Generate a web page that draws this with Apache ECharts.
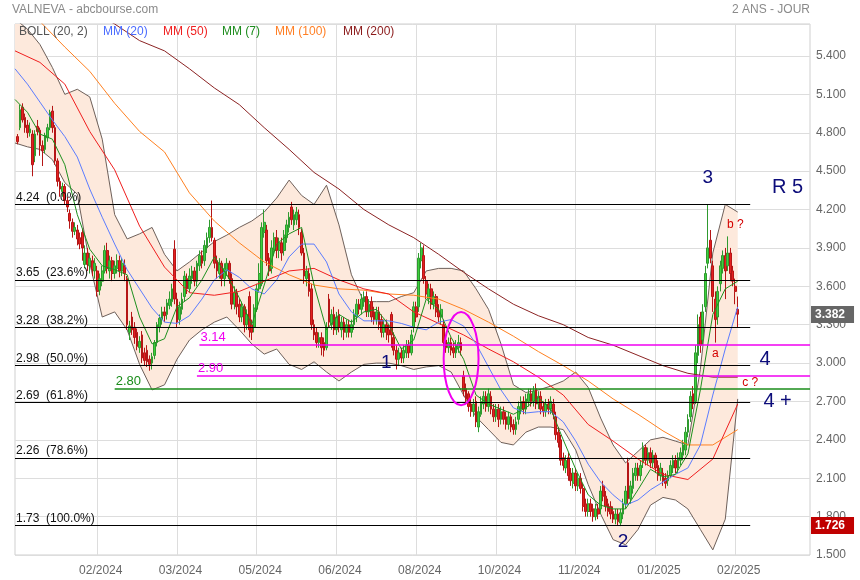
<!DOCTYPE html>
<html><head><meta charset="utf-8">
<script src="https://cdn.jsdelivr.net/npm/echarts@6/dist/echarts.min.js"></script>
<style>html,body{margin:0;padding:0;background:#fff}#c{width:860px;height:580px}</style>
</head><body><div id="c"></div>
<script>
// ---------- DATA ----------
const firstIdx = 1;           // category index of the first candle
const nSlots = 320;           // category slots on the x axis (includes empty right margin)
const tickIdx = [33, 65, 97, 129, 161, 193, 225, 257, 289];
const tickLabels = ['02/2024','03/2024','05/2024','06/2024','08/2024','10/2024','11/2024','01/2025','02/2025'];

const opens = [
4.77,4.84,5.00,4.92,4.86,4.80,4.79,4.62,4.85,4.82,
4.70,4.67,4.76,4.84,4.97,4.84,4.58,4.42,4.34,4.38,
4.27,4.17,4.10,4.03,4.04,3.98,4.02,3.77,3.86,3.76,
3.80,3.72,3.72,3.57,3.64,3.72,3.88,3.72,3.80,3.70,
3.74,3.80,3.72,3.76,3.66,3.24,3.36,3.28,3.24,3.12,
3.22,3.08,3.10,3.03,3.00,3.06,3.16,3.28,3.34,3.40,
3.38,3.45,3.48,3.89,3.50,3.34,3.42,3.52,3.66,3.58,
3.66,3.72,3.64,3.76,3.84,3.80,3.90,3.98,4.06,3.96,
3.80,3.70,3.78,3.66,3.72,3.78,3.66,3.46,3.55,3.46,
3.36,3.44,3.30,3.52,3.30,3.28,3.42,3.58,3.62,4.02,
4.04,3.82,3.74,3.88,3.98,3.88,3.94,3.88,3.98,4.06,
4.22,4.08,4.12,4.16,4.02,3.86,3.66,3.70,3.58,3.30,
3.24,3.16,3.20,3.16,3.12,3.50,3.30,3.38,3.26,3.38,
3.26,3.32,3.24,3.30,3.24,3.30,3.36,3.46,3.42,3.48,
3.52,3.40,3.48,3.40,3.34,3.40,3.34,3.24,3.30,3.26,
3.38,3.20,3.10,3.03,3.08,3.04,3.08,3.14,3.08,3.28,
3.44,3.44,3.80,3.84,3.64,3.50,3.58,3.46,3.52,3.40,
3.36,3.30,3.18,3.12,3.16,3.12,3.08,3.12,3.16,2.90,
2.80,2.76,2.68,2.62,2.70,2.50,2.60,2.68,2.74,2.66,
2.74,2.64,2.58,2.64,2.56,2.62,2.58,2.52,2.58,2.52,
2.48,2.56,2.64,2.70,2.64,2.70,2.76,2.70,2.80,2.68,
2.74,2.66,2.62,2.68,2.64,2.68,2.58,2.46,2.40,2.26,
2.18,2.26,2.14,2.06,2.14,2.04,2.10,2.02,1.90,1.84,
1.90,1.86,1.80,1.86,1.86,2.04,1.96,1.90,1.88,1.84,
1.78,1.82,1.75,1.82,1.90,2.22,1.94,2.02,2.12,2.18,
2.12,2.22,2.34,2.24,2.30,2.22,2.28,2.20,2.12,2.14,
2.10,2.08,2.12,2.18,2.24,2.18,2.24,2.28,2.32,2.46,
2.58,2.76,2.70,3.06,3.36,3.18,3.44,3.78,3.96,3.76,
3.50,3.36,3.62,3.74,3.84,3.76,3.86,3.72,3.60,3.42];
const highs = [
4.79,5.02,5.03,4.95,4.90,4.88,4.82,4.82,4.90,4.84,
4.74,4.80,4.87,4.98,5.01,4.86,4.60,4.45,4.41,4.40,
4.30,4.20,4.13,4.10,4.08,4.02,4.05,3.92,3.90,3.86,
3.84,3.82,3.76,3.70,3.76,3.92,3.94,3.84,3.83,3.80,
3.85,3.84,3.82,3.81,3.68,3.33,3.40,3.32,3.27,3.21,
3.25,3.12,3.14,3.06,3.08,3.18,3.32,3.38,3.44,3.44,
3.50,3.56,3.62,3.96,3.55,3.48,3.55,3.72,3.70,3.74,
3.76,3.75,3.80,3.88,3.88,3.96,4.02,4.12,4.27,3.98,
3.84,3.82,3.80,3.78,3.82,3.80,3.70,3.60,3.58,3.50,
3.48,3.46,3.42,3.56,3.34,3.46,3.62,3.78,4.10,4.20,
4.08,3.86,3.96,4.02,4.04,3.98,3.98,4.04,4.12,4.18,
4.26,4.20,4.22,4.20,4.05,3.90,3.76,3.74,3.62,3.34,
3.28,3.24,3.24,3.20,3.32,3.54,3.42,3.44,3.40,3.42,
3.36,3.36,3.34,3.34,3.34,3.42,3.50,3.50,3.54,3.56,
3.56,3.50,3.52,3.44,3.44,3.44,3.38,3.34,3.34,3.30,
3.40,3.24,3.14,3.12,3.12,3.14,3.18,3.18,3.26,3.48,
3.48,3.86,3.94,3.92,3.68,3.62,3.62,3.56,3.54,3.46,
3.46,3.34,3.22,3.20,3.20,3.16,3.18,3.22,3.20,2.94,
2.84,2.78,2.72,2.72,2.74,2.66,2.74,2.78,2.78,2.80,
2.78,2.68,2.68,2.68,2.66,2.66,2.62,2.62,2.60,2.56,
2.58,2.70,2.74,2.74,2.76,2.80,2.80,2.82,2.84,2.78,
2.78,2.70,2.72,2.72,2.74,2.72,2.62,2.50,2.44,2.30,
2.28,2.30,2.18,2.18,2.18,2.14,2.14,2.06,1.94,1.94,
1.94,1.90,1.90,1.90,2.04,2.08,2.00,1.94,1.92,1.88,
1.86,1.86,1.86,1.94,2.04,2.26,2.08,2.18,2.22,2.22,
2.24,2.38,2.36,2.34,2.34,2.32,2.30,2.24,2.22,2.18,
2.14,2.16,2.24,2.28,2.28,2.30,2.34,2.40,2.50,2.60,
2.78,2.82,3.14,3.38,3.40,3.46,3.76,4.24,4.04,3.80,
3.56,3.60,3.80,3.88,3.90,3.99,3.90,3.76,3.66,3.52];
const lows = [
4.71,4.82,4.88,4.80,4.76,4.77,4.46,4.57,4.78,4.62,
4.54,4.64,4.73,4.82,4.80,4.55,4.38,4.30,4.30,4.24,
4.18,4.05,3.98,4.00,3.92,3.89,3.80,3.74,3.72,3.70,
3.68,3.66,3.52,3.53,3.60,3.70,3.70,3.66,3.64,3.66,
3.70,3.67,3.68,3.64,3.26,3.18,3.22,3.15,3.10,3.08,
3.00,2.98,2.97,2.94,2.95,3.03,3.13,3.24,3.30,3.32,
3.34,3.42,3.44,3.46,3.28,3.30,3.38,3.48,3.54,3.55,
3.62,3.60,3.60,3.72,3.74,3.76,3.86,3.94,3.95,3.74,
3.66,3.66,3.60,3.60,3.68,3.62,3.42,3.42,3.38,3.32,
3.32,3.24,3.26,3.20,3.18,3.24,3.40,3.55,3.60,3.98,
3.76,3.68,3.70,3.84,3.82,3.82,3.80,3.84,3.94,4.02,
4.08,4.04,4.08,4.00,3.84,3.62,3.60,3.52,3.26,3.18,
3.12,3.12,3.06,3.05,3.10,3.28,3.26,3.22,3.22,3.24,
3.20,3.18,3.20,3.20,3.20,3.26,3.32,3.38,3.38,3.44,
3.36,3.36,3.32,3.30,3.30,3.26,3.20,3.20,3.18,3.16,
3.12,3.06,2.95,2.98,3.00,3.00,3.04,3.04,3.06,3.24,
3.32,3.40,3.74,3.62,3.50,3.46,3.42,3.42,3.36,3.32,
3.30,3.12,3.08,3.08,3.06,3.04,3.04,3.08,3.06,2.74,
2.68,2.62,2.58,2.58,2.50,2.46,2.58,2.64,2.62,2.62,
2.60,2.54,2.54,2.50,2.52,2.52,2.48,2.48,2.46,2.44,
2.44,2.52,2.60,2.60,2.60,2.66,2.66,2.66,2.64,2.64,
2.60,2.58,2.58,2.60,2.60,2.56,2.40,2.34,2.20,2.16,
2.14,2.08,2.04,2.02,2.00,2.00,1.98,1.84,1.80,1.80,
1.80,1.76,1.77,1.78,1.82,1.92,1.84,1.80,1.78,1.75,
1.74,1.73,1.726,1.78,1.86,1.90,1.90,1.98,2.08,2.08,
2.08,2.18,2.20,2.20,2.18,2.18,2.14,2.08,2.08,2.04,
2.02,2.04,2.10,2.14,2.14,2.14,2.20,2.24,2.28,2.42,
2.54,2.64,2.68,3.00,3.08,3.14,3.40,3.74,3.78,3.40,
3.16,3.30,3.56,3.70,3.50,3.72,3.64,3.60,3.46,3.28];
const closes = [
4.73,4.98,4.90,4.84,4.80,4.83,4.55,4.79,4.81,4.70,
4.66,4.78,4.84,4.96,4.84,4.58,4.42,4.36,4.38,4.27,
4.22,4.11,4.03,4.06,3.97,3.93,3.90,3.86,3.77,3.82,
3.73,3.78,3.56,3.66,3.72,3.88,3.74,3.80,3.70,3.76,
3.80,3.72,3.78,3.70,3.30,3.29,3.26,3.20,3.13,3.17,
3.04,3.02,3.01,2.99,3.05,3.16,3.30,3.35,3.40,3.37,
3.47,3.50,3.58,3.50,3.32,3.44,3.50,3.68,3.58,3.68,
3.72,3.64,3.78,3.84,3.78,3.92,3.98,4.06,3.98,3.78,
3.72,3.78,3.66,3.74,3.78,3.66,3.46,3.55,3.44,3.36,
3.44,3.30,3.38,3.26,3.24,3.43,3.58,3.70,4.06,4.10,
3.80,3.72,3.90,3.98,3.88,3.94,3.86,4.00,4.08,4.14,
4.12,4.16,4.18,4.06,3.86,3.68,3.72,3.56,3.30,3.22,
3.16,3.20,3.12,3.10,3.28,3.32,3.38,3.26,3.36,3.28,
3.32,3.24,3.30,3.24,3.30,3.38,3.46,3.42,3.50,3.52,
3.40,3.46,3.36,3.34,3.40,3.30,3.24,3.30,3.24,3.22,
3.22,3.10,3.03,3.08,3.04,3.10,3.14,3.08,3.22,3.44,
3.36,3.82,3.90,3.66,3.54,3.58,3.46,3.52,3.40,3.36,
3.42,3.16,3.12,3.16,3.10,3.08,3.14,3.16,3.10,2.78,
2.72,2.66,2.62,2.68,2.54,2.62,2.70,2.74,2.66,2.76,
2.64,2.58,2.64,2.56,2.62,2.56,2.52,2.58,2.50,2.48,
2.54,2.66,2.70,2.64,2.72,2.76,2.70,2.78,2.68,2.74,
2.64,2.62,2.68,2.64,2.70,2.60,2.44,2.38,2.24,2.20,
2.24,2.12,2.08,2.14,2.04,2.10,2.02,1.88,1.84,1.90,
1.84,1.80,1.86,1.82,2.00,1.96,1.88,1.84,1.82,1.78,
1.82,1.76,1.83,1.90,2.00,1.94,2.04,2.14,2.18,2.12,
2.20,2.34,2.24,2.30,2.22,2.28,2.18,2.12,2.18,2.08,
2.06,2.12,2.20,2.24,2.18,2.26,2.30,2.36,2.46,2.56,
2.74,2.68,3.08,3.30,3.14,3.40,3.70,3.90,3.82,3.52,
3.34,3.56,3.76,3.84,3.72,3.86,3.70,3.64,3.56,3.382];

// indicator lines at sample positions (category index)
const bandIdx = [0,5,10,15,20,25,30,35,40,45,50,55,60,65,70,75,80,85,90,95,100,105,110,115,120,125,130,135,140,145,150,155,160,165,170,175,180,185,190,195,200,205,210,215,220,225,230,235,240,245,250,255,260,265,270,275,280,285,290];
const bollUpper = [5.69,5.61,5.49,5.31,5.10,5.14,5.08,4.75,4.16,3.97,4.01,4.06,3.85,3.72,3.79,3.87,3.95,4.00,4.06,4.11,4.18,4.29,4.43,4.31,4.24,4.39,4.08,3.69,3.48,3.48,3.48,3.52,3.55,3.72,3.74,3.74,3.72,3.58,3.42,3.15,2.83,2.77,2.79,2.82,2.86,2.93,2.81,2.57,2.36,2.22,2.31,2.40,2.42,2.39,2.36,2.95,3.86,4.24,4.18];
const bollLower = [4.72,4.69,4.67,4.59,4.41,4.32,3.78,3.36,3.40,3.26,2.99,2.79,2.83,3.03,3.18,3.26,3.32,3.36,3.26,3.15,3.07,3.11,2.99,2.95,3.01,2.93,2.86,2.93,2.99,3.00,3.00,2.98,2.95,2.97,2.98,2.93,2.75,2.58,2.48,2.38,2.36,2.46,2.50,2.50,2.48,2.32,2.05,1.82,1.62,1.58,1.70,1.89,1.95,1.93,1.86,1.70,1.54,1.78,2.72];
const mm20 = [5.30,5.18,5.04,4.90,4.77,4.61,4.36,4.14,3.93,3.73,3.58,3.43,3.32,3.31,3.37,3.50,3.65,3.73,3.67,3.58,3.54,3.65,3.83,3.93,3.93,3.79,3.54,3.40,3.33,3.33,3.33,3.31,3.28,3.26,3.32,3.34,3.29,3.15,2.97,2.79,2.65,2.61,2.62,2.62,2.54,2.39,2.21,2.07,1.97,1.89,1.93,2.01,2.07,2.13,2.18,2.36,2.75,3.11,3.44];
const mm7 = [5.06,4.96,4.79,4.75,4.55,4.16,3.89,3.76,3.73,3.69,3.36,3.15,3.19,3.44,3.51,3.65,3.83,3.69,3.51,3.30,3.61,3.93,4.01,4.06,3.61,3.26,3.38,3.32,3.40,3.42,3.30,3.11,3.18,3.50,3.42,3.20,3.03,2.75,2.68,2.64,2.60,2.65,2.73,2.64,2.40,2.17,1.97,1.89,1.86,1.86,2.01,2.17,2.11,2.13,2.29,2.79,3.38,3.58,3.64];
const slowIdx = [0,10,20,30,40,50,60,70,80,90,100,110,120,130,140,150,160,170,180,190,200,210,220,230,240,250,260,270,280,290];
const mm50  = [5.44,5.35,5.18,4.81,4.51,4.07,3.75,3.55,3.53,3.56,3.64,3.72,3.74,3.65,3.58,3.54,3.40,3.31,3.22,3.11,3.01,2.89,2.75,2.52,2.39,2.25,2.13,2.09,2.25,2.68];
const mm100 = [5.87,5.67,5.47,5.28,5.03,4.81,4.65,4.33,4.11,3.94,3.79,3.69,3.61,3.58,3.57,3.54,3.53,3.50,3.42,3.32,3.21,3.09,2.98,2.86,2.72,2.60,2.47,2.36,2.36,2.48];
const mm200 = [6.12,6.00,5.88,5.76,5.65,5.52,5.44,5.30,5.15,5.02,4.84,4.67,4.49,4.36,4.20,4.08,3.98,3.85,3.71,3.58,3.46,3.37,3.30,3.20,3.14,3.06,2.98,2.92,2.89,2.89];

// Fibonacci retracement levels
const fibValues = [4.24, 3.65, 3.28, 2.98, 2.69, 2.26, 1.73];
const fibLabels = ['4.24  (0.0%)','3.65  (23.6%)','3.28  (38.2%)','2.98  (50.0%)','2.69  (61.8%)','2.26  (78.6%)','1.73  (100.0%)'];
const fibEndIdx = 295;
// other horizontal levels
const levelValues = [3.14, 2.90, 2.80];
const levelLabels = ['3.14', '2.90', '2.80'];
const levelStartIdx = [74, 73, 40];
// price tags
const lastPrice = 3.382;
const lowPrice = 1.726;
// annotations
const annotText = ['3','R 5','b ?','a','4','c ?','4 +','1','2'];
const annotX = [278, 310, 289, 281, 301, 295, 306, 149, 244];
const annotY = [4.45, 4.37, 4.08, 3.07, 3.03, 2.85, 2.70, 3.00, 1.60];
const annotIsWave = [true, true, false, false, true, false, true, true, true];
// ellipse box [x0, y0, x1, y1]
const ellipseBox = [172, 2.67, 186, 3.40];

// ---------- CHART ----------
const FONT = 'Liberation Sans, Arial, sans-serif';
const cats = Array.from({length: nSlots}, (_, i) => String(i));
const candleData = closes.map((c, k) => [k + firstIdx, opens[k], c, lows[k], highs[k]]);
const pairs = (idx, vals) => idx.map((x, k) => [x, vals[k]]);
const isTick = (i) => tickIdx.indexOf(i) >= 0;

const lineSeries = (name, idx, vals, color, z) => ({
  type: 'line', name, data: pairs(idx, vals), showSymbol: false, symbol: 'none',
  lineStyle: {color, width: 1}, z: z || 4, silent: true, clip: true
});

const fibMarks = fibValues.map((v, k) => ([
  {coord: [0, v], label: {formatter: fibLabels[k]}},
  {coord: [fibEndIdx, v]}
]));
const levelColors = ['#f000f0', '#f000f0', '#1a8c1a'];
const levelMarks = levelValues.map((v, k) => ([
  {coord: [levelStartIdx[k], v], lineStyle: {color: levelColors[k], width: 1.5},
   label: {formatter: levelLabels[k], color: levelColors[k], fontSize: 13}},
  {coord: [nSlots - 1, v], lineStyle: {color: levelColors[k], width: 1.5}}
]));

const annotData = annotText.map((t, k) => ({
  value: [annotX[k], annotY[k]],
  label: annotIsWave[k]
    ? {formatter: t, color: '#0c0c7a', fontSize: (t === '3' || t === '1' || t === '2') ? 19 : 20, opacity: 1}
    : {formatter: t, color: '#d40000', fontSize: 12, opacity: 1}
}));

const tagLabel = (txt, bg) => ({show: true, position: 'end', formatter: txt, color: '#fff', backgroundColor: bg,
  padding: [3, 9, 2, 4], fontSize: 12, fontWeight: 'bold', fontFamily: FONT, distance: 1});

const option = {
  animation: false,
  backgroundColor: '#fff',
  textStyle: {fontFamily: FONT},
  grid: {left: 15, right: 50, top: 24, bottom: 25, show: true, borderColor: '#cfcfcf', borderWidth: 1, backgroundColor: '#fff'},
  xAxis: {
    type: 'category', data: cats, boundaryGap: false,
    axisLine: {show: false}, axisTick: {show: false},
    axisLabel: {interval: (i) => isTick(i), formatter: (v) => { const k = tickIdx.indexOf(Number(v)); return k >= 0 ? tickLabels[k] : ''; },
                color: '#666', fontSize: 12, fontFamily: FONT, margin: 10, padding: [0, 0, 0, 7]},
    splitLine: {show: true, interval: (i) => isTick(i), lineStyle: {color: '#dddddd', width: 1}}
  },
  yAxis: {
    type: 'value', position: 'right', min: 1.5, max: 5.65, interval: 0.3, scale: true,
    axisLine: {show: false}, axisTick: {show: false},
    axisLabel: {formatter: (v) => v.toFixed(3), color: '#666', fontSize: 12, fontFamily: FONT, margin: 6, showMaxLabel: false},
    splitLine: {show: true, lineStyle: {color: '#dddddd', width: 1}}
  },
  graphic: [
    {type: 'text', left: 12, top: 4, z: 100, style: {text: 'VALNEVA - abcbourse.com', fill: '#8a8a8a', font: '12px ' + FONT}},
    {type: 'text', right: 50, top: 4, z: 100, style: {text: '2 ANS - JOUR', fill: '#8a8a8a', font: '12px ' + FONT}},
    {type: 'text', left: 19, top: 26, z: 100, style: {text: 'BOLL (20, 2)', fill: '#555555', font: '12px ' + FONT}},
    {type: 'text', left: 103, top: 26, z: 100, style: {text: 'MM (20)', fill: '#4a6cff', font: '12px ' + FONT}},
    {type: 'text', left: 163, top: 26, z: 100, style: {text: 'MM (50)', fill: '#f02020', font: '12px ' + FONT}},
    {type: 'text', left: 222, top: 26, z: 100, style: {text: 'MM (7)', fill: '#1e8c1e', font: '12px ' + FONT}},
    {type: 'text', left: 275, top: 26, z: 100, style: {text: 'MM (100)', fill: '#ff7f24', font: '12px ' + FONT}},
    {type: 'text', left: 343, top: 26, z: 100, style: {text: 'MM (200)', fill: '#8b1a1a', font: '12px ' + FONT}}
  ],
  series: [
    {
      type: 'custom', name: 'BOLL fill', z: 1, clip: true, silent: true,
      data: [[0, bollUpper[0]]], encode: {x: 0, y: 1},
      renderItem: (params, api) => {
        const pts = [];
        bandIdx.forEach((x, k) => pts.push(api.coord([x, bollUpper[k]])));
        for (let k = bandIdx.length - 1; k >= 0; k--) pts.push(api.coord([bandIdx[k], bollLower[k]]));
        return {type: 'polygon', shape: {points: pts}, style: {fill: '#fde9dc', stroke: null}};
      }
    },
    lineSeries('BOLL up', bandIdx, bollUpper, '#6e605a', 2),
    lineSeries('BOLL low', bandIdx, bollLower, '#6e605a', 2),
    {
      type: 'candlestick', name: 'VALNEVA', data: candleData, encode: {x: 0, y: [1, 2, 3, 4]},
      barWidth: 2.2, z: 3, silent: true,
      itemStyle: {color: '#3dd03d', color0: '#e42020', borderColor: '#2f9a2f', borderColor0: '#b51616', borderWidth: 1}
    },
    lineSeries('MM (200)', slowIdx, mm200, '#8b2323', 4),
    lineSeries('MM (100)', slowIdx, mm100, '#ff8020', 4),
    lineSeries('MM (50)', slowIdx, mm50, '#f01e1e', 4),
    lineSeries('MM (20)', bandIdx, mm20, '#5b7cff', 4),
    lineSeries('MM (7)', bandIdx, mm7, '#1e901e', 4),
    {
      type: 'line', name: 'levels', data: [], z: 5, silent: true,
      markLine: {
        silent: true, symbol: ['none', 'none'], animation: false,
        lineStyle: {color: '#000', width: 1.2, type: 'solid'},
        label: {show: true, position: 'insideStartTop', color: '#111', fontSize: 12, fontFamily: FONT, distance: [1, 1]},
        data: fibMarks.concat(levelMarks)
      }
    },
    {
      type: 'line', name: 'tags', data: [], z: 8, silent: true,
      markLine: {
        silent: true, symbol: ['none', 'none'], animation: false,
        lineStyle: {color: 'rgba(0,0,0,0)', width: 0},
        data: [
          {yAxis: lastPrice, label: tagLabel(lastPrice.toFixed(3), '#666666')},
          {yAxis: lowPrice, label: tagLabel(lowPrice.toFixed(3), '#c00000')}
        ]
      }
    },
    {
      type: 'custom', name: 'ellipse', z: 6, silent: true, clip: true,
      data: [ellipseBox], encode: {x: [0, 2], y: [1, 3]},
      renderItem: (params, api) => {
        const a = api.coord([api.value(0), api.value(1)]);
        const b = api.coord([api.value(2), api.value(3)]);
        return {type: 'ellipse', shape: {cx: (a[0] + b[0]) / 2, cy: (a[1] + b[1]) / 2, rx: Math.abs(b[0] - a[0]) / 2, ry: Math.abs(b[1] - a[1]) / 2},
                style: {fill: null, stroke: '#f000f0', lineWidth: 2}};
      }
    },
    {
      type: 'scatter', name: 'annotations', z: 7, silent: true, symbolSize: 1,
      itemStyle: {color: 'rgba(0,0,0,0)', opacity: 1},
      label: {show: true, position: 'inside', fontFamily: FONT},
      data: annotData
    }
  ]
};
const chart = echarts.init(document.getElementById('c'));
chart.setOption(option);
</script></body></html>
